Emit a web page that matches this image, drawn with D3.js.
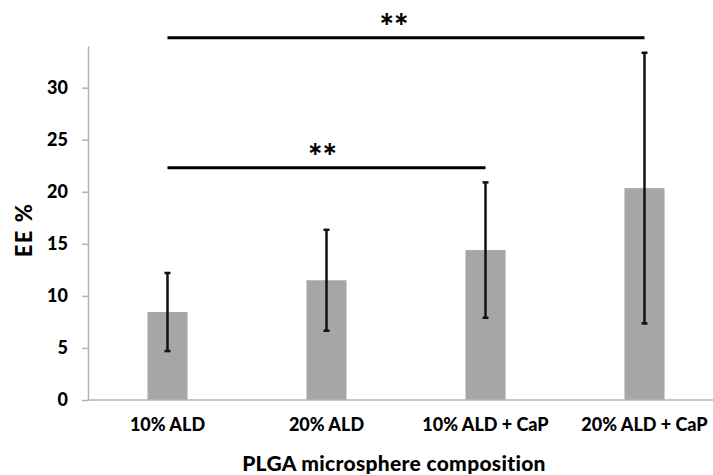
<!DOCTYPE html>
<html>
<head>
<meta charset="utf-8">
<script src="https://cdn.jsdelivr.net/npm/d3@7"></script>
<style>
  body { margin: 0; background: #fff; }
  text { font-family: Lato, "Open Sans", sans-serif; font-weight: 900; fill: #000; }
  .axis .domain { stroke: #b3b3b3; stroke-width: 1.5; }
  .axis .tick line { stroke: #b3b3b3; stroke-width: 1.5; }
</style>
</head>
<body>
<svg class="chart"></svg>
<script>
// data
var categories = ["10% ALD", "20% ALD", "10% ALD + CaP", "20% ALD + CaP"];
var meanEE = [8.45, 11.5, 14.4, 20.35];
var errEE = [3.75, 4.85, 6.5, 13.0];
var yTicks = [0, 5, 10, 15, 20, 25, 30];
// significance brackets: from category, to category, height (EE %), label
var sigFrom = ["10% ALD", "10% ALD"];
var sigTo = ["20% ALD + CaP", "10% ALD + CaP"];
var sigLevel = [34.8, 22.3];
var sigLabel = ["**", "**"];

var width = 713, height = 475;
var marginLeft = 88, axisBottom = 400, axisTop = 46;

var svg = d3.select(".chart")
    .attr("width", width)
    .attr("height", height);

var x = d3.scaleBand()
    .domain(categories)
    .range([marginLeft, marginLeft + 4 * 159])
    .paddingInner(0.748)
    .paddingOuter(0.374);

var y = d3.scaleLinear()
    .domain([0, 34])
    .range([axisBottom, axisTop]);

// bars
svg.selectAll(".bar")
    .data(categories)
  .enter().append("rect")
    .attr("class", "bar")
    .attr("x", d => x(d))
    .attr("y", (d, i) => y(meanEE[i]))
    .attr("width", x.bandwidth())
    .attr("height", (d, i) => axisBottom - y(meanEE[i]))
    .attr("fill", "#a6a6a6");

// y axis
svg.append("g")
    .attr("class", "y axis")
    .attr("transform", "translate(" + marginLeft + ",0)")
    .call(d3.axisLeft(y).tickValues(yTicks).tickSize(6).tickSizeOuter(0).tickPadding(14))
    .selectAll(".tick text")
      .style("font-size", "18px");

// x axis
svg.append("g")
    .attr("class", "x axis")
    .attr("transform", "translate(0," + axisBottom + ")")
    .call(d3.axisBottom(x).tickSize(0).tickPadding(18))
    .call(g => g.select(".domain").attr("d", "M" + marginLeft + ",0H" + width))
    .selectAll(".tick text")
      .style("font-size", "18px");

// error bars
var eb = svg.selectAll(".err")
    .data(categories)
  .enter().append("g")
    .attr("class", "err")
    .attr("stroke", "#111")
    .attr("stroke-width", 2.5);

var cx = d => x(d) + x.bandwidth() / 2;

eb.append("line")
    .attr("x1", cx).attr("x2", cx)
    .attr("y1", (d, i) => y(meanEE[i] + errEE[i]))
    .attr("y2", (d, i) => y(meanEE[i] - errEE[i]));
eb.append("line")
    .attr("x1", d => cx(d) - 3).attr("x2", d => cx(d) + 3)
    .attr("y1", (d, i) => y(meanEE[i] + errEE[i]))
    .attr("y2", (d, i) => y(meanEE[i] + errEE[i]));
eb.append("line")
    .attr("x1", d => cx(d) - 3).attr("x2", d => cx(d) + 3)
    .attr("y1", (d, i) => y(meanEE[i] - errEE[i]))
    .attr("y2", (d, i) => y(meanEE[i] - errEE[i]));

// significance lines
var sig = svg.selectAll(".sig")
    .data(sigLevel)
  .enter().append("g")
    .attr("class", "sig");

sig.append("line")
    .attr("x1", (d, i) => cx(sigFrom[i]))
    .attr("x2", (d, i) => cx(sigTo[i]))
    .attr("y1", d => y(d))
    .attr("y2", d => y(d))
    .attr("stroke", "#000")
    .attr("stroke-width", 3);

sig.append("text")
    .attr("x", (d, i) => (cx(sigFrom[i]) + cx(sigTo[i])) / 2 - (i == 0 ? 12 : 4))
    .attr("y", d => y(d) + 1)
    .attr("text-anchor", "middle")
    .style("font-size", "34px")
    .text((d, i) => sigLabel[i]);

// axis titles
svg.append("text")
    .attr("transform", "translate(32,230) rotate(-90)")
    .attr("text-anchor", "middle")
    .style("font-size", "22px")
    .style("letter-spacing", "1.5px")
    .text("EE %");

svg.append("text")
    .attr("x", 394)
    .attr("y", 471)
    .attr("text-anchor", "middle")
    .style("font-size", "21px")
    .style("letter-spacing", "0.3px")
    .text("PLGA microsphere composition");
</script>
</body>
</html>
